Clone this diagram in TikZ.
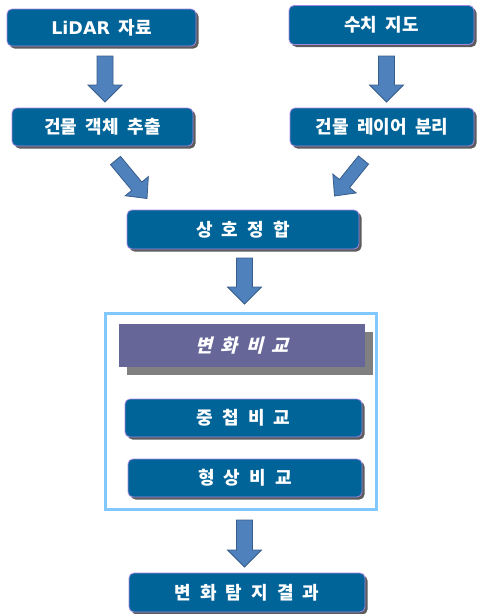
\documentclass[tikz,border=0pt]{standalone}
\usepackage{fontspec}
\newfontfamily\kr{Noto Sans CJK KR}
\newfontfamily\lat{DejaVu Sans}
\usetikzlibrary{shadows,calc}
\definecolor{boxblue}{RGB}{0,100,152}
\definecolor{boxborder}{RGB}{165,135,225}
\definecolor{arrowfill}{RGB}{79,129,189}
\definecolor{arrowline}{RGB}{56,93,138}
\definecolor{hdr}{RGB}{102,102,153}
\definecolor{hdrshadow}{RGB}{128,128,128}
\definecolor{framecol}{RGB}{128,200,255}
\newcommand\boxfont{\kr\bfseries\fontsize{18}{21}\selectfont\spaceskip8.5pt\relax}
\newcommand\widefont{\kr\bfseries\fontsize{18}{21}\selectfont\spaceskip9pt\relax}
\newcommand\hdrfont{\kr\bfseries\fontsize{18.5}{21}\selectfont\addfontfeatures{FakeSlant=0.25}\spaceskip8.5pt\relax}
\newcommand\blockarrow[5]{%
  \coordinate (ba-n) at ($(#5)!#3pt!(#4)$);
  \filldraw[barrow] ($(#4)!#1pt!90:(#5)$) -- ($(ba-n)!#1pt!90:(#5)$) -- ($(ba-n)!#2pt!90:(#5)$) -- (#5) -- ($(ba-n)!#2pt!-90:(#5)$) -- ($(ba-n)!#1pt!-90:(#5)$) -- ($(#4)!#1pt!-90:(#5)$) -- cycle;}
\begin{document}
\begin{tikzpicture}[x=1pt,y=-1pt,
  box/.style={rectangle, rounded corners=5pt, fill=boxblue, draw=boxborder, line width=0.8pt,
    text=white, inner sep=0pt, font=\boxfont,
    drop shadow={shadow xshift=2.5pt, shadow yshift=-2.5pt, fill=black!75, opacity=0.85}},
  wide/.style={font=\widefont},
  barrow/.style={fill=arrowfill, draw=arrowline, line width=0.8pt, line join=miter}]
\useasboundingbox (0,0) rectangle (477,614);

% boxes
\node[box, minimum width=189pt, minimum height=37pt] (lidar) at (101.5,27.5) {{\lat\bfseries\fontsize{17.5}{21}\selectfont LiDAR} 자료};
\node[box, minimum width=185pt, minimum height=39pt] (map) at (381.5,25) {수치 지도};
\node[box, minimum width=181pt, minimum height=38pt] (obj) at (102.5,127) {건물 객체 추출};
\node[box, minimum width=184pt, minimum height=38pt] (layer) at (382,127) {건물 레이어 분리};
\node[box, wide, minimum width=232pt, minimum height=39pt] (match) at (243,229.5) {상 호 정 합};

% frame
\node[draw=framecol, line width=3pt, minimum width=271pt, minimum height=196pt, inner sep=0pt] (frame) at (241,411.5) {};
\node[fill=hdr, minimum width=246pt, minimum height=43pt, inner sep=0pt, text=white, font=\hdrfont,
  drop shadow={shadow xshift=8pt, shadow yshift=-8pt, fill=hdrshadow, opacity=1}] (hdr) at (242,345.5) {변 화 비 교};
\node[box, wide, minimum width=237pt, minimum height=38pt] (overlap) at (243.5,418) {중 첩 비 교};
\node[box, wide, minimum width=234pt, minimum height=38pt] (shape) at (245,478) {형 상 비 교};

\node[box, wide, minimum width=236pt, minimum height=39pt] (result) at (247,592.5) {변 화 탐 지 결 과};

% arrows
\coordinate (a1t) at (105,56);   \coordinate (a1h) at (105,102);
\coordinate (a2t) at (386.5,56); \coordinate (a2h) at (386.5,102);
\coordinate (a3t) at (115.5,160.5); \coordinate (a3h) at (147,198.5);
\coordinate (a4t) at (363.5,160); \coordinate (a4h) at (334.5,196);
\coordinate (a5t) at (244.5,258); \coordinate (a5h) at (244.5,304);
\coordinate (a6t) at (244.5,520); \coordinate (a6h) at (244.5,567);
\blockarrow{8}{17}{17}{a1t}{a1h}
\blockarrow{8}{17}{17}{a2t}{a2h}
\blockarrow{6.5}{15}{16}{a3t}{a3h}
\blockarrow{6.5}{15}{16}{a4t}{a4h}
\blockarrow{8}{17}{17}{a5t}{a5h}
\blockarrow{8}{17}{17}{a6t}{a6h}
\end{tikzpicture}
\end{document}
